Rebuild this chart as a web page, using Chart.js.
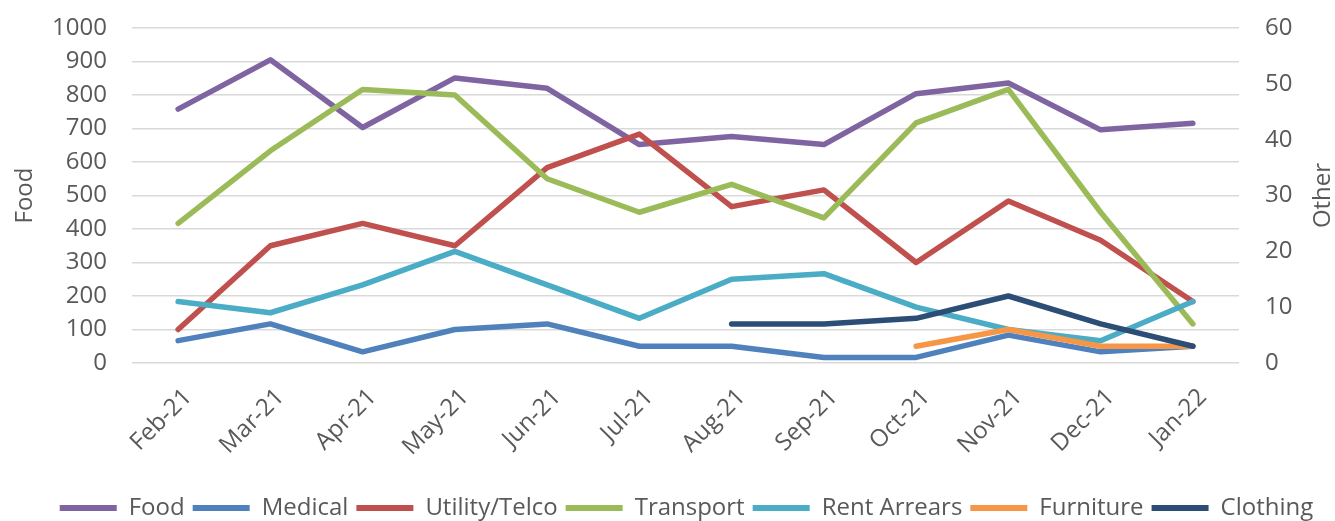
<!DOCTYPE html>
<html>
<head>
<meta charset="utf-8">
<script src="https://cdn.jsdelivr.net/npm/chart.js@4.4.1/dist/chart.umd.min.js"></script>
<style>
html,body{margin:0;padding:0;background:#ffffff;}
#wrap{width:1335px;height:521px;position:relative;}
</style>
</head>
<body>
<div id="wrap"><canvas id="c" width="1335" height="521"></canvas></div>
<script>
const categories = ['Feb-21','Mar-21','Apr-21','May-21','Jun-21','Jul-21','Aug-21','Sep-21','Oct-21','Nov-21','Dec-21','Jan-22'];
const food        = [758, 905, 703, 851, 820, 652, 676, 652, 804, 836, 696, 716];
const medical     = [4, 7, 2, 6, 7, 3, 3, 1, 1, 5, 2, 3];
const utility     = [6, 21, 25, 21, 35, 41, 28, 31, 18, 29, 22, 11];
const transport   = [25, 38, 49, 48, 33, 27, 32, 26, 43, 49, 27, 7];
const rentArrears = [11, 9, 14, 20, 14, 8, 15, 16, 10, 6, 4, 11];
const furniture   = [null, null, null, null, null, null, null, null, 3, 6, 3, 3];
const clothing    = [null, null, null, null, null, null, 7, 7, 8, 12, 7, 3];

const seriesNames  = ['Food','Medical','Utility/Telco','Transport','Rent Arrears','Furniture','Clothing'];
const seriesColors = ['#8064A2','#4F81BD','#C0504D','#9BBB59','#4BACC6','#F79646','#2C4D75'];
const seriesData   = [food, medical, utility, transport, rentArrears, furniture, clothing];
const seriesAxis   = ['y','y1','y1','y1','y1','y1','y1'];

const leftTitle = 'Food';
const rightTitle = 'Other';
const leftMax = 1000, leftStep = 100;
const rightMax = 60, rightStep = 10;

const FONT = "'Open Sans', sans-serif";
const TXT = '#595959';

const datasets = seriesNames.map((n, i) => ({
  label: n,
  data: seriesData[i],
  borderColor: seriesColors[i],
  backgroundColor: seriesColors[i],
  yAxisID: seriesAxis[i],
  order: seriesNames.length - i
}));

const otherTitle = {
  id: 'otherTitle',
  afterDraw(chart) {
    const s = chart.scales.y1;
    const ctx = chart.ctx;
    ctx.save();
    ctx.translate(s.right - 12, (chart.chartArea.top + chart.chartArea.bottom) / 2);
    ctx.rotate(-Math.PI / 2);
    ctx.font = '24px ' + FONT;
    ctx.fillStyle = TXT;
    ctx.textAlign = 'center';
    ctx.textBaseline = 'middle';
    ctx.fillText(rightTitle, 0, 0);
    ctx.restore();
  }
};

const legendShift = {
  id: 'legendShift',
  afterLayout(chart) {
    const l = chart.legend;
    if (l) { l.left += 19; l.right += 19; }
  }
};

new Chart(document.getElementById('c'), {
  type: 'line',
  data: { labels: categories, datasets },
  options: {
    responsive: false,
    animation: false,
    layout: { padding: { top: 28, right: 0, bottom: -9, left: 0 } },
    elements: {
      point: { radius: 0, hoverRadius: 0 },
      line: { borderWidth: 5.5, tension: 0, borderJoinStyle: 'round', borderCapStyle: 'round' }
    },
    plugins: {
      tooltip: { enabled: false },
      legend: {
        position: 'bottom',
        labels: {
          boxWidth: 57,
          boxHeight: 6,
          padding: 8,
          color: TXT,
          font: { family: FONT, size: 24 },
          sort: (a, b) => a.datasetIndex - b.datasetIndex,
          generateLabels(chart) {
            const items = Chart.defaults.plugins.legend.labels.generateLabels(chart);
            items.forEach(it => { it.lineWidth = 0; it.fillStyle = it.strokeStyle; });
            return items;
          }
        }
      }
    },
    scales: {
      x: {
        offset: true,
        grid: { display: false, drawTicks: false },
        border: { display: false },
        ticks: { autoSkip: false, maxRotation: 45, minRotation: 45, padding: 20, labelOffset: 10, color: TXT, font: { family: FONT, size: 24 } },
        afterFit(s) { s.height = 125; }
      },
      y: {
        position: 'left',
        min: 0, max: leftMax,
        ticks: { stepSize: leftStep, padding: 25, color: TXT, font: { family: FONT, size: 24 }, format: { useGrouping: false } },
        grid: { color: '#d9d9d9', lineWidth: 1.5, drawTicks: false },
        border: { display: false },
        title: { display: true, text: leftTitle, color: TXT, font: { family: FONT, size: 24 }, padding: { top: 11, bottom: 0 } },
        afterFit(s) { s.width = 132; s.paddingTop = 0; s.paddingBottom = 0; }
      },
      y1: {
        position: 'right',
        min: 0, max: rightMax,
        ticks: { stepSize: rightStep, padding: 26, color: TXT, font: { family: FONT, size: 24 } },
        grid: { display: false, drawTicks: false },
        border: { display: false },
        afterFit(s) { s.width = 96; s.paddingTop = 0; s.paddingBottom = 0; }
      }
    }
  },
  plugins: [otherTitle, legendShift]
});
</script>
</body>
</html>
